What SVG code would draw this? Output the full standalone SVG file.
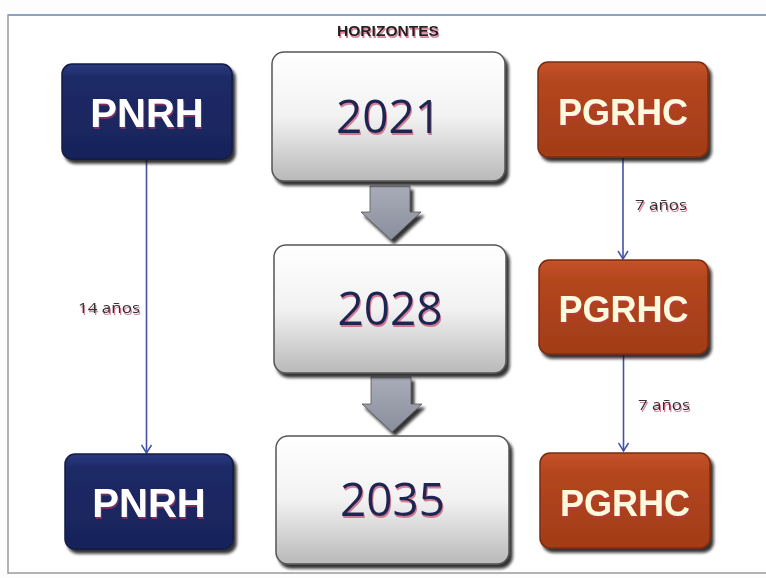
<svg xmlns="http://www.w3.org/2000/svg" width="766" height="578" viewBox="0 0 766 578">
<style>
.navy{fill:url(#gNavy);stroke:#121a45;stroke-width:1.5}
.rust{fill:url(#gRust);stroke:#7a2c10;stroke-width:1.5}
.year{fill:url(#gWhite);stroke:#555;stroke-width:1.5}
.lbl{font-family:"Liberation Sans",Arial,sans-serif;font-weight:bold;text-anchor:middle}
.w{fill:#ffffff}
.py{fill:#fdf9dc}
.yr{font-family:"Open Sans","Liberation Sans",sans-serif;font-size:46px;fill:#1c2752;text-anchor:middle}
.small{font-family:"Open Sans","Liberation Sans",Arial,sans-serif;font-size:15px;fill:#333}
.conn{stroke:#4450a8;stroke-width:1.6;fill:none}
.barrow{fill:url(#gArrow);stroke:#555;stroke-width:0.8}
</style>
<defs>
<linearGradient id="gNavy" x1="0" y1="0" x2="0" y2="1">
<stop offset="0" stop-color="#2b3a80"/><stop offset="0.15" stop-color="#1d2a66"/><stop offset="1" stop-color="#18235a"/>
</linearGradient>
<linearGradient id="gRust" x1="0" y1="0" x2="0" y2="1">
<stop offset="0" stop-color="#c5532a"/><stop offset="0.2" stop-color="#b4461e"/><stop offset="1" stop-color="#a23c18"/>
</linearGradient>
<linearGradient id="gWhite" x1="0" y1="0" x2="0" y2="1">
<stop offset="0" stop-color="#ffffff"/><stop offset="0.5" stop-color="#f2f2f2"/><stop offset="1" stop-color="#b9b9b9"/>
</linearGradient>
<linearGradient id="gArrow" x1="0" y1="0" x2="0" y2="1">
<stop offset="0" stop-color="#a9acb8"/><stop offset="1" stop-color="#8a8e9c"/>
</linearGradient>
<filter id="sh" x="-10%" y="-10%" width="125%" height="130%">
<feDropShadow dx="3" dy="4" stdDeviation="1.5" flood-color="#111" flood-opacity="0.85"/>
</filter>
<filter id="tsh" x="-10%" y="-20%" width="130%" height="160%">
<feDropShadow dx="1" dy="2" stdDeviation="0.6" flood-color="#c0305a" flood-opacity="0.6"/>
</filter>
<marker id="ah" markerWidth="12" markerHeight="12" refX="10" refY="6" orient="auto" markerUnits="userSpaceOnUse">
<path d="M2,1 L10,6 L2,11" fill="none" stroke="#4450a8" stroke-width="1.5"/>
</marker>
</defs>
<rect x="0" y="0" width="766" height="578" fill="#fdfdfd"/>
<rect x="8" y="15" width="770" height="558" fill="#ffffff" stroke="#9a9a9a" stroke-width="1.5"/>
<line x1="8" y1="15" x2="766" y2="15" stroke="#7f9fc8" stroke-width="1.5"/>

<text x="388" y="36" class="lbl" font-size="14" fill="#222" textLength="102" lengthAdjust="spacingAndGlyphs" filter="url(#tsh)">HORIZONTES</text>

<g id="connectors">
<line class="conn" x1="146.5" y1="160" x2="146.5" y2="453" marker-end="url(#ah)"/>
<line class="conn" x1="623" y1="158" x2="623" y2="259" marker-end="url(#ah)"/>
<line class="conn" x1="623.5" y1="355" x2="623.5" y2="451" marker-end="url(#ah)"/>
<text x="78" y="313" class="small" textLength="62" lengthAdjust="spacingAndGlyphs" filter="url(#tsh)">14 años</text>
<text x="635" y="210" class="small" textLength="52" lengthAdjust="spacingAndGlyphs" filter="url(#tsh)">7 años</text>
<text x="638" y="410" class="small" textLength="52" lengthAdjust="spacingAndGlyphs" filter="url(#tsh)">7 años</text>
</g>

<g id="arrow1" filter="url(#sh)">
<path class="barrow" d="M370,186 L410,186 L410,212 L421,212 L391,240 L361,212 L370,212 Z"/>
</g>
<g id="arrow2" filter="url(#sh)">
<path class="barrow" d="M371,377 L411,377 L411,404 L422,404 L392,432 L362,404 L371,404 Z"/>
</g>

<g id="pnrh1" filter="url(#sh)">
<rect class="navy" x="62" y="64" width="170" height="95" rx="10"/>
<text x="147" y="127" class="lbl w" font-size="40" filter="url(#tsh)">PNRH</text>
</g>
<g id="y2021" filter="url(#sh)">
<rect class="year" x="272" y="52" width="233" height="129" rx="12"/>
<text x="388.5" y="133" class="yr" filter="url(#tsh)">2021</text>
</g>
<g id="pgrhc1" filter="url(#sh)">
<rect class="rust" x="538" y="62" width="170" height="95" rx="10"/>
<text x="623" y="125" class="lbl py" font-size="36" filter="url(#tsh)">PGRHC</text>
</g>

<g id="y2028" filter="url(#sh)">
<rect class="year" x="274" y="245" width="232" height="128" rx="12"/>
<text x="390" y="325" class="yr" filter="url(#tsh)">2028</text>
</g>
<g id="pgrhc2" filter="url(#sh)">
<rect class="rust" x="539" y="260" width="169" height="94" rx="10"/>
<text x="623.5" y="322" class="lbl py" font-size="36" filter="url(#tsh)">PGRHC</text>
</g>

<g id="pnrh2" filter="url(#sh)">
<rect class="navy" x="65" y="454" width="168" height="95" rx="10"/>
<text x="149" y="517" class="lbl w" font-size="40" filter="url(#tsh)">PNRH</text>
</g>
<g id="y2035" filter="url(#sh)">
<rect class="year" x="276" y="436" width="233" height="128" rx="12"/>
<text x="392.5" y="516" class="yr" filter="url(#tsh)">2035</text>
</g>
<g id="pgrhc3" filter="url(#sh)">
<rect class="rust" x="540" y="453" width="170" height="95" rx="10"/>
<text x="625" y="516" class="lbl py" font-size="36" filter="url(#tsh)">PGRHC</text>
</g>
</svg>
